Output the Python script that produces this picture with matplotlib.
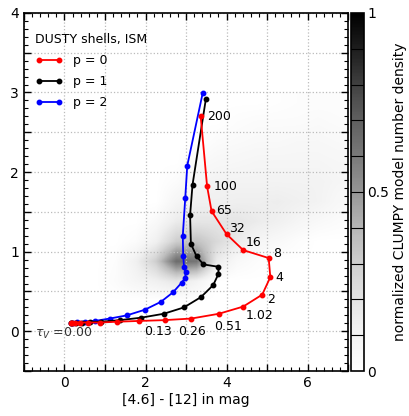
import numpy as np
import matplotlib
matplotlib.use("Agg")
import matplotlib.pyplot as plt
from matplotlib.ticker import MultipleLocator, FuncFormatter

# DUSTY shell tracks, colour [4.6]-[12] vs second colour, for three density indices p
p0_x = [0.15, 0.18, 0.26, 0.38, 0.59, 0.88, 1.30, 1.85, 2.47, 3.13, 3.81, 4.41, 4.88, 5.08, 5.04, 4.41, 4.00, 3.63, 3.52, 3.36]
p0_y = [0.11, 0.11, 0.11, 0.11, 0.11, 0.11, 0.12, 0.13, 0.14, 0.16, 0.22, 0.31, 0.46, 0.68, 0.92, 1.02, 1.22, 1.51, 1.82, 2.71]
p1_x = [0.15, 0.19, 0.28, 0.42, 0.62, 0.91, 1.37, 1.88, 2.45, 2.95, 3.37, 3.67, 3.80, 3.80, 3.43, 3.26, 3.12, 3.10, 3.16, 3.49]
p1_y = [0.11, 0.11, 0.11, 0.11, 0.12, 0.12, 0.14, 0.17, 0.22, 0.30, 0.43, 0.58, 0.72, 0.81, 0.84, 0.94, 1.10, 1.46, 1.84, 2.92]
p2_x = [0.15, 0.20, 0.32, 0.51, 0.75, 1.12, 1.54, 1.98, 2.38, 2.68, 2.89, 2.98, 2.99, 2.95, 2.93, 2.92, 2.98, 3.03, 3.41]
p2_y = [0.11, 0.11, 0.12, 0.12, 0.13, 0.16, 0.20, 0.27, 0.37, 0.49, 0.61, 0.67, 0.74, 0.81, 0.95, 1.20, 1.67, 2.08, 2.99]

# optical depth labels on the p = 0 track
tau_labels = ["0.13", "0.26", "0.51", "1.02", "2", "4", "8", "16", "32", "65", "100", "200"]
tau_x = [1.97, 2.81, 3.69, 4.46, 4.99, 5.20, 5.14, 4.47, 4.07, 3.74, 3.67, 3.51]
tau_y = [0.00, 0.00, 0.06, 0.20, 0.40, 0.68, 0.98, 1.11, 1.29, 1.52, 1.82, 2.70]

# normalized CLUMPY model number density, coarse grid
dens_x = [0.75, 1.25, 1.75, 2.25, 2.75, 3.25, 3.75, 4.25, 4.75, 5.25, 5.75, 6.25, 6.75]
dens_y = [0.375, 0.625, 0.875, 1.125, 1.375, 1.625, 1.875, 2.125, 2.375, 2.625, 2.875]
dens = [
    [0.00, 0.00, 0.00, 0.00, 0.00, 0.00, 0.00, 0.00, 0.00, 0.00, 0.00, 0.00, 0.00],
    [0.00, 0.03, 0.08, 0.12, 0.18, 0.10, 0.00, 0.00, 0.00, 0.00, 0.00, 0.00, 0.00],
    [0.00, 0.02, 0.12, 0.30, 0.65, 0.62, 0.15, 0.05, 0.02, 0.00, 0.00, 0.00, 0.00],
    [0.00, 0.00, 0.03, 0.12, 0.30, 0.35, 0.25, 0.15, 0.08, 0.05, 0.02, 0.00, 0.00],
    [0.00, 0.00, 0.00, 0.05, 0.15, 0.18, 0.18, 0.18, 0.15, 0.12, 0.08, 0.05, 0.03],
    [0.00, 0.00, 0.00, 0.00, 0.08, 0.12, 0.12, 0.13, 0.13, 0.14, 0.12, 0.10, 0.06],
    [0.00, 0.00, 0.00, 0.00, 0.03, 0.08, 0.10, 0.10, 0.10, 0.10, 0.10, 0.10, 0.08],
    [0.00, 0.00, 0.00, 0.00, 0.00, 0.04, 0.06, 0.07, 0.08, 0.08, 0.08, 0.08, 0.07],
    [0.00, 0.00, 0.00, 0.00, 0.00, 0.00, 0.03, 0.04, 0.05, 0.05, 0.06, 0.06, 0.05],
    [0.00, 0.00, 0.00, 0.00, 0.00, 0.00, 0.00, 0.02, 0.03, 0.03, 0.03, 0.04, 0.03],
    [0.00, 0.00, 0.00, 0.00, 0.00, 0.00, 0.00, 0.00, 0.00, 0.01, 0.02, 0.02, 0.02],
]

fig = plt.figure(figsize=(4.1, 4.16), dpi=100)
ax = fig.add_axes([0.0585, 0.108, 0.7905, 0.861])
cax = fig.add_axes([0.857, 0.108, 0.032, 0.861])

dx = dens_x[1] - dens_x[0]
dy = dens_y[1] - dens_y[0]
img = ax.imshow(np.array(dens), origin="lower", cmap="Greys", vmin=0, vmax=1,
                interpolation="bilinear", aspect="auto",
                extent=[dens_x[0] - dx / 2, dens_x[-1] + dx / 2,
                        dens_y[0] - dy / 2, dens_y[-1] + dy / 2], zorder=0)

ax.plot(p2_x, p2_y, "-o", color="blue", lw=1.3, ms=3.2, label="p = 2", zorder=3)
ax.plot(p1_x, p1_y, "-o", color="black", lw=1.3, ms=3.2, label="p = 1", zorder=4)
ax.plot(p0_x, p0_y, "-o", color="red", lw=1.3, ms=3.2, label="p = 0", zorder=5)

for lab, tx, ty in zip(tau_labels, tau_x, tau_y):
    ax.text(tx, ty, lab, fontsize=9, ha="left", va="center", zorder=6)
ax.text(-0.73, -0.03, r"$\tau_V$ =0.00", fontsize=9, ha="left", va="center", color="#333333")

ax.set_xlim(-1, 7)
ax.set_ylim(-0.5, 4)
ax.xaxis.set_major_locator(MultipleLocator(1))
ax.xaxis.set_minor_locator(MultipleLocator(0.2))
ax.yaxis.set_major_locator(MultipleLocator(0.5))
ax.yaxis.set_minor_locator(MultipleLocator(0.1))
ax.xaxis.set_major_formatter(FuncFormatter(lambda v, p: f"{v:.0f}" if round(v) % 2 == 0 and v >= 0 else ""))
ax.yaxis.set_major_formatter(FuncFormatter(lambda v, p: f"{v:.0f}" if abs(v - round(v)) < 1e-6 and v >= 0 else ""))
ax.tick_params(which="both", direction="in", top=True, right=True, labelsize=10)
ax.tick_params(which="major", length=5, width=1)
ax.tick_params(which="minor", length=3, width=0.8)
ax.grid(True, which="major", linestyle=":", color="#bbbbbb", lw=0.9)
for s in ax.spines.values():
    s.set_linewidth(1.2)
ax.set_xlabel("[4.6] - [12] in mag", fontsize=10, labelpad=2)

handles, labels = ax.get_legend_handles_labels()
leg = ax.legend(handles[::-1], labels[::-1], loc="upper left", frameon=False,
                title="DUSTY shells, ISM", fontsize=9, title_fontsize=9,
                numpoints=2, handlelength=2.2, labelspacing=0.65,
                bbox_to_anchor=(0.0, 0.975))
leg._legend_box.align = "left"

cbar = fig.colorbar(img, cax=cax, ticks=[0, 0.5, 1])
cbar.ax.set_yticklabels(["0", "0.5", "1"])
cbar.ax.tick_params(length=0, labelsize=10, pad=2)
for lvl in np.arange(0.1, 1.0, 0.1):
    cbar.ax.axhline(lvl, color="black", lw=0.8)
cbar.outline.set_linewidth(1.2)
cbar.set_label("normalized CLUMPY model number density", fontsize=10, labelpad=3)

fig.savefig("out.png", dpi=100)
